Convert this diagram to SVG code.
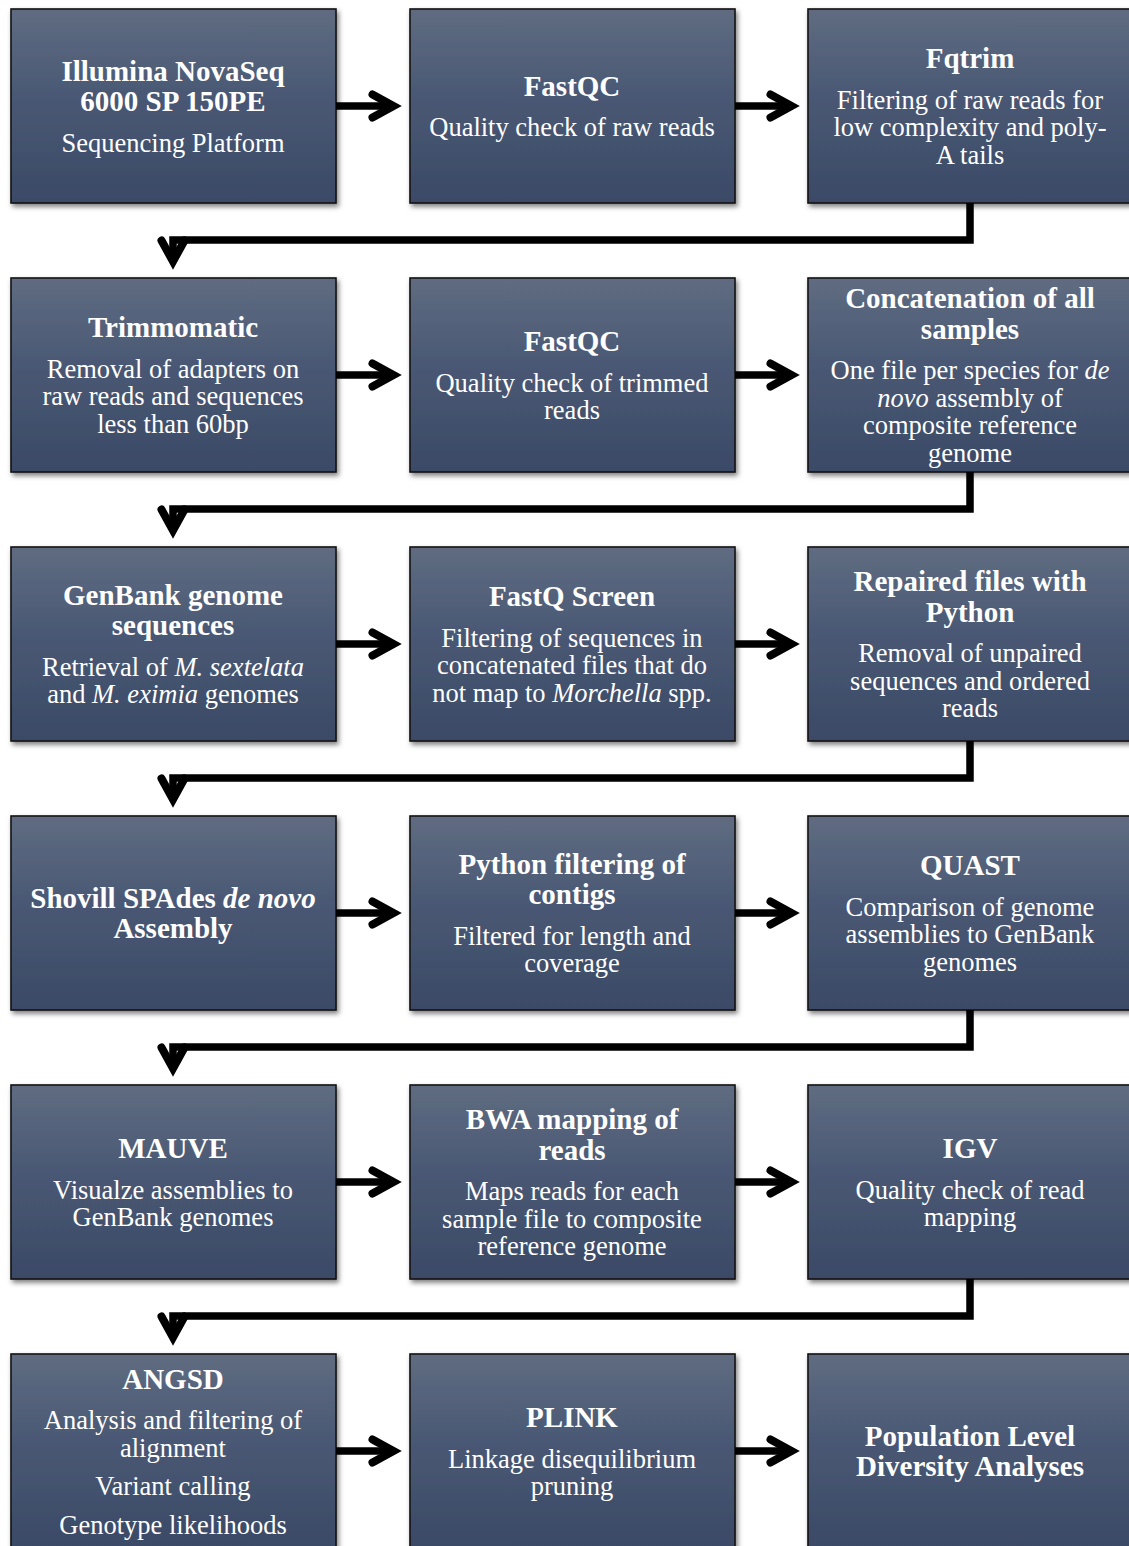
<svg xmlns="http://www.w3.org/2000/svg" width="1129" height="1546" viewBox="0 0 1129 1546">
<defs>
<linearGradient id="g" x1="0" y1="0" x2="0" y2="1">
<stop offset="0" stop-color="#5f6c81"/>
<stop offset="0.45" stop-color="#4a5874"/>
<stop offset="1" stop-color="#3a4a66"/>
</linearGradient>
<filter id="sh" x="-10%" y="-10%" width="125%" height="130%">
<feDropShadow dx="2" dy="3" stdDeviation="2.5" flood-color="#000" flood-opacity="0.5"/>
</filter>
<marker id="ah" markerUnits="userSpaceOnUse" viewBox="-40 -25 55 50" markerWidth="55" markerHeight="50" refX="0" refY="0" orient="auto">
<path d="M-21,-11.5 L0,0 L-21,11.5" fill="none" stroke="#000" stroke-width="8" stroke-linecap="round" stroke-linejoin="miter"/>
</marker>
<style>
.box{fill:url(#g);stroke:#151515;stroke-width:1.6;filter:url(#sh)}
.t{font-family:"Liberation Serif","Times New Roman",serif;font-weight:bold;font-size:29px;fill:#fff;text-anchor:middle}
.b{font-family:"Liberation Serif","Times New Roman",serif;font-size:26.5px;fill:#fff;text-anchor:middle}
.i{font-style:italic}
.c{fill:none;stroke:#000;stroke-width:7.5;stroke-linejoin:miter;marker-end:url(#ah)}
</style>
</defs>
<rect width="1129" height="1546" fill="#fff"/>

<g id="n1"><rect class="box" x="11" y="9" width="325" height="194"/>
<text class="t" x="173" y="80.5">Illumina NovaSeq</text><text class="t" x="173" y="111">6000 SP 150PE</text>
<text class="b" x="173" y="151.5">Sequencing Platform</text></g>
<g id="n2"><rect class="box" x="410" y="9" width="325" height="194"/>
<text class="t" x="572" y="95.75">FastQC</text>
<text class="b" x="572" y="136.25">Quality check of raw reads</text></g>
<g id="n3"><rect class="box" x="808" y="9" width="325" height="194"/>
<text class="t" x="970" y="68.25">Fqtrim</text>
<text class="b" x="970" y="108.75">Filtering of raw reads for</text><text class="b" x="970" y="136.25">low complexity and poly-</text><text class="b" x="970" y="163.75">A tails</text></g>

<g id="n4"><rect class="box" x="11" y="278" width="325" height="194"/>
<text class="t" x="173" y="337.25">Trimmomatic</text>
<text class="b" x="173" y="377.75">Removal of adapters on</text><text class="b" x="173" y="405.25">raw reads and sequences</text><text class="b" x="173" y="432.75">less than 60bp</text></g>
<g id="n5"><rect class="box" x="410" y="278" width="325" height="194"/>
<text class="t" x="572" y="351">FastQC</text>
<text class="b" x="572" y="391.5">Quality check of trimmed</text><text class="b" x="572" y="419">reads</text></g>
<g id="n6"><rect class="box" x="808" y="278" width="325" height="194"/>
<text class="t" x="970" y="308.25">Concatenation of all</text><text class="t" x="970" y="338.75">samples</text>
<text class="b" x="970" y="379.25">One file per species for <tspan class="i">de</tspan></text><text class="b" x="970" y="406.75"><tspan class="i">novo</tspan> assembly of</text><text class="b" x="970" y="434.25">composite reference</text><text class="b" x="970" y="461.75">genome</text></g>

<g id="n7"><rect class="box" x="11" y="547" width="325" height="194"/>
<text class="t" x="173" y="604.75">GenBank genome</text><text class="t" x="173" y="635.25">sequences</text>
<text class="b" x="173" y="675.75">Retrieval of <tspan class="i">M. sextelata</tspan></text><text class="b" x="173" y="703.25">and <tspan class="i">M. eximia</tspan> genomes</text></g>
<g id="n8"><rect class="box" x="410" y="547" width="325" height="194"/>
<text class="t" x="572" y="606.25">FastQ Screen</text>
<text class="b" x="572" y="646.75">Filtering of sequences in</text><text class="b" x="572" y="674.25">concatenated files that do</text><text class="b" x="572" y="701.75">not map to <tspan class="i">Morchella</tspan> spp.</text></g>
<g id="n9"><rect class="box" x="808" y="547" width="325" height="194"/>
<text class="t" x="970" y="591">Repaired files with</text><text class="t" x="970" y="621.5">Python</text>
<text class="b" x="970" y="662">Removal of unpaired</text><text class="b" x="970" y="689.5">sequences and ordered</text><text class="b" x="970" y="717">reads</text></g>

<g id="n10"><rect class="box" x="11" y="816" width="325" height="194"/>
<text class="t" x="173" y="907.75">Shovill SPAdes <tspan class="i">de novo</tspan></text><text class="t" x="173" y="938.25">Assembly</text></g>
<g id="n11"><rect class="box" x="410" y="816" width="325" height="194"/>
<text class="t" x="572" y="873.75">Python filtering of</text><text class="t" x="572" y="904.25">contigs</text>
<text class="b" x="572" y="944.75">Filtered for length and</text><text class="b" x="572" y="972.25">coverage</text></g>
<g id="n12"><rect class="box" x="808" y="816" width="325" height="194"/>
<text class="t" x="970" y="875.25">QUAST</text>
<text class="b" x="970" y="915.75">Comparison of genome</text><text class="b" x="970" y="943.25">assemblies to GenBank</text><text class="b" x="970" y="970.75">genomes</text></g>

<g id="n13"><rect class="box" x="11" y="1085" width="325" height="194"/>
<text class="t" x="173" y="1158">MAUVE</text>
<text class="b" x="173" y="1198.5">Visualze assemblies to</text><text class="b" x="173" y="1226">GenBank genomes</text></g>
<g id="n14"><rect class="box" x="410" y="1085" width="325" height="194"/>
<text class="t" x="572" y="1129">BWA mapping of</text><text class="t" x="572" y="1159.5">reads</text>
<text class="b" x="572" y="1200">Maps reads for each</text><text class="b" x="572" y="1227.5">sample file to composite</text><text class="b" x="572" y="1255">reference genome</text></g>
<g id="n15"><rect class="box" x="808" y="1085" width="325" height="194"/>
<text class="t" x="970" y="1158">IGV</text>
<text class="b" x="970" y="1198.5">Quality check of read</text><text class="b" x="970" y="1226">mapping</text></g>

<g id="n16"><rect class="box" x="11" y="1354" width="325" height="194"/>
<text class="t" x="173" y="1388.5">ANGSD</text>
<text class="b" x="173" y="1429">Analysis and filtering of</text><text class="b" x="173" y="1456.5">alignment</text><text class="b" x="173" y="1495">Variant calling</text><text class="b" x="173" y="1533.5">Genotype likelihoods</text></g>
<g id="n17"><rect class="box" x="410" y="1354" width="325" height="194"/>
<text class="t" x="572" y="1427">PLINK</text>
<text class="b" x="572" y="1467.5">Linkage disequilibrium</text><text class="b" x="572" y="1495">pruning</text></g>
<g id="n18"><rect class="box" x="808" y="1354" width="325" height="194"/>
<text class="t" x="970" y="1445.75">Population Level</text><text class="t" x="970" y="1476.25">Diversity Analyses</text></g>

<g id="connectors">
<path class="c" d="M336,106 H393.5"/><path class="c" d="M735,106 H791.5"/>
<path class="c" d="M970,203 V240 H173 V261.5"/>
<path class="c" d="M336,375 H393.5"/><path class="c" d="M735,375 H791.5"/>
<path class="c" d="M970,472 V509 H173 V530.5"/>
<path class="c" d="M336,644 H393.5"/><path class="c" d="M735,644 H791.5"/>
<path class="c" d="M970,741 V778 H173 V799.5"/>
<path class="c" d="M336,913 H393.5"/><path class="c" d="M735,913 H791.5"/>
<path class="c" d="M970,1010 V1047 H173 V1068.5"/>
<path class="c" d="M336,1182 H393.5"/><path class="c" d="M735,1182 H791.5"/>
<path class="c" d="M970,1279 V1316 H173 V1337.5"/>
<path class="c" d="M336,1451 H393.5"/><path class="c" d="M735,1451 H791.5"/>
</g>
</svg>
